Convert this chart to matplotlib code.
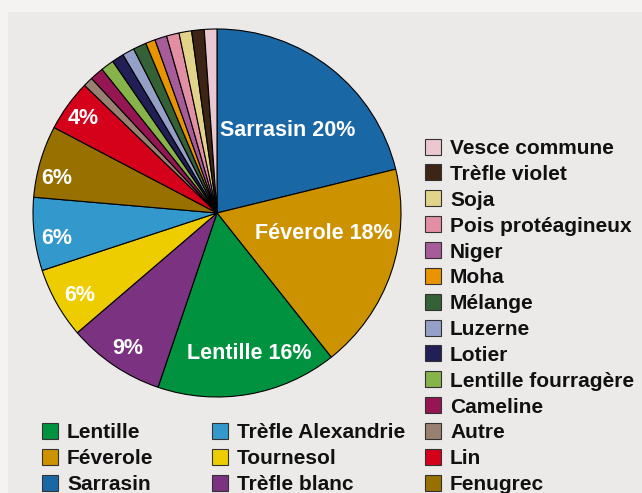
import matplotlib
matplotlib.use("Agg")
import matplotlib.pyplot as plt
from matplotlib.patches import Rectangle

plt.rcParams['font.family'] = ['Liberation Sans', 'DejaVu Sans']
plt.rcParams['font.weight'] = 'bold'

# slices, clockwise from 12 o'clock
cultures = ['Sarrasin', 'Féverole', 'Lentille', 'Trèfle blanc', 'Tournesol',
            'Trèfle Alexandrie', 'Fenugrec', 'Lin', 'Autre', 'Cameline',
            'Lentille fourragère', 'Lotier', 'Luzerne', 'Mélange', 'Moha',
            'Niger', 'Pois protéagineux', 'Soja', 'Trèfle violet', 'Vesce commune']
parts = [21.1, 18.1, 15.8, 8.5, 6.2,
         6.4, 6.3, 4.5, 0.85, 1.2,
         1.15, 1.05, 1.05, 1.15, 0.85,
         1.05, 1.1, 1.1, 1.1, 1.1]
colors = ['#1a67a6', '#cc9200', '#00923f', '#7b3281', '#eecd00',
          '#3399cc', '#977000', '#d50019', '#9a8070', '#951652',
          '#86b34a', '#211f55', '#95a0c8', '#346136', '#e79400',
          '#a65c98', '#e28fa4', '#e2d38a', '#3c2515', '#ebc8d0']

# percentage labels printed on the pie
pct_text = ['Sarrasin 20%', 'Féverole 18%', 'Lentille 16%', '9%', '6%', '6%', '6%', '4%']
pct_pos = [(0.386, 0.446), (0.582, -0.114), (0.174, -0.761), (-0.484, -0.734),
           (-0.745, -0.451), (-0.870, -0.141), (-0.870, 0.190), (-0.728, 0.516)]

# legend layout
leg_bottom = [['Lentille', 'Féverole', 'Sarrasin'],
              ['Trèfle Alexandrie', 'Tournesol', 'Trèfle blanc']]
leg_right = ['Vesce commune', 'Trèfle violet', 'Soja', 'Pois protéagineux', 'Niger',
             'Moha', 'Mélange', 'Luzerne', 'Lotier', 'Lentille fourragère',
             'Cameline', 'Autre', 'Lin', 'Fenugrec']
col_of = dict(zip(cultures, colors))

W, H = 642, 493
fig = plt.figure(figsize=(W / 100, H / 100), dpi=100, facecolor='#f4f3f1')
fig.patches.append(Rectangle((8 / W, 0), 1, 1 - 12 / H, transform=fig.transFigure,
                             facecolor='#ebeae8', edgecolor='none', zorder=-5))

cx, cy, r = 217, 213, 184
ax = fig.add_axes([(cx - r) / W, (H - cy - r) / H, 2 * r / W, 2 * r / H])
ax.pie(parts, colors=colors, startangle=90, counterclock=False, radius=1,
       wedgeprops=dict(edgecolor='black', linewidth=0.8))
ax.set_xlim(-1, 1)
ax.set_ylim(-1, 1)
ax.set_aspect('auto')
ax.axis('off')

for txt, (x, y) in zip(pct_text, pct_pos):
    ax.text(x, y, txt, color='white', fontsize=15.5, fontweight='bold',
            ha='center', va='center')


def legend_col(names, x_box, y_first, step):
    for i, name in enumerate(names):
        yc = y_first + i * step
        fig.patches.append(Rectangle((x_box / W, 1 - (yc + 8) / H), 16 / W, 16 / H,
                                     transform=fig.transFigure, facecolor=col_of[name],
                                     edgecolor='#333333', linewidth=0.8))
        fig.text((x_box + 25) / W, 1 - yc / H, name, fontsize=15, fontweight='bold',
                 color='#111111', ha='left', va='center_baseline')


step = 25.85
legend_col(leg_bottom[0], 42, 431, step)
legend_col(leg_bottom[1], 212, 431, step)
legend_col(leg_right, 425, 431 - 11 * step, step)

fig.savefig('out.png', dpi=100, facecolor=fig.get_facecolor())
